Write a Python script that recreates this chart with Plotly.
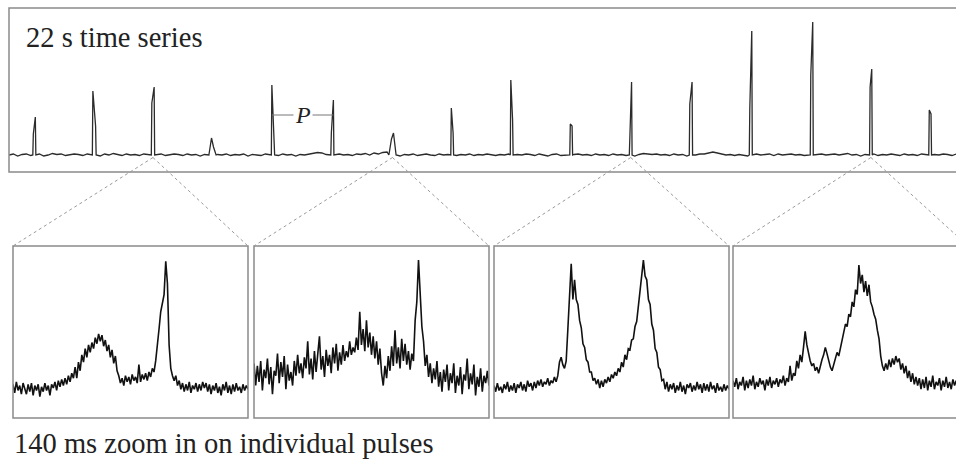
import plotly.graph_objects as go

# ---------------- data ----------------
# top panel: 22 s time series (amplitude in arbitrary units, baseline 0)
baseline_step_s = 0.1
baseline = [
    0.0, 0.1, -0.1, 0.05, 0.1, -0.05, 0.0, 0.1, -0.1, 0.0,
    0.15, 0.05, 0.1, -0.05, 0.0, 0.1, 0.05, -0.05, 0.1, 0.0,
    0.05, -0.1, 0.1, 0.0, 0.15, 0.05, -0.05, 0.1, 0.0, 0.05,
    -0.05, 0.1, 0.0, -0.15, 0.05, 0.1, -0.05, 0.0, 0.1, 0.05,
    -0.05, 0.1, 0.0, 0.05, -0.1, 0.05, 0.0, -0.1, 0.05, 0.0,
    0.1, -0.05, 0.05, 0.0, 0.1, -0.1, 0.05, 0.0, -0.05, 0.1,
    0.0, 0.05, -0.05, 0.1, 0.0, 0.05, -0.1, 0.05, 0.0, 0.1,
    0.15, 0.25, 0.2, 0.05, 0.0, -0.05, 0.1, 0.0, 0.05, -0.05,
    0.1, 0.05, 0.15, 0.0, 0.2, 0.1, 0.25, 0.3, 0.2, 0.1,
    -0.1, 0.05, 0.0, 0.1, -0.05, 0.05, 0.1, 0.0, -0.05, 0.1,
    0.0, 0.05, 0.1, -0.05, 0.05, 0.0, 0.1, -0.05, 0.05, 0.0,
    0.1, 0.0, -0.05, 0.05, 0.0, 0.1, -0.05, 0.05, 0.0, 0.1,
    0.05, -0.05, 0.1, 0.0, -0.1, 0.05, 0.1, -0.05, 0.0, -0.1,
    0.05, 0.1, 0.0, 0.05, -0.05, 0.1, 0.0, 0.05, -0.05, 0.1,
    0.0, 0.05, -0.05, 0.1, -0.1, 0.05, 0.15, 0.1, 0.05, 0.1,
    0.0, 0.05, -0.05, 0.1, 0.0, 0.05, -0.1, 0.05, 0.0, 0.1,
    0.1, 0.2, 0.3, 0.2, 0.1, 0.0, 0.05, -0.05, 0.05, 0.0,
    -0.1, 0.05, 0.1, 0.0, 0.05, 0.1, -0.05, 0.1, 0.0, 0.05,
    0.1, 0.0, 0.05, -0.05, 0.0, -0.1, 0.05, 0.1, 0.0, 0.05,
    0.1, 0.0, 0.05, 0.15, 0.0, 0.05, -0.1, 0.05, 0.0, 0.1,
    -0.05, 0.05, 0.0, 0.1, 0.05, -0.05, 0.1, 0.0, 0.05, -0.05,
    0.1, 0.0, -0.1, 0.05, 0.0, 0.1, 0.05, -0.05, 0.1,
]
pulse_t1 = [0.560, 1.930, 3.287, 4.660, 6.049, 7.418, 8.802, 10.179,
            11.548, 12.917, 14.287, 15.667, 17.048, 18.451, 19.816, 21.178]
pulse_t2 = [0.606, 1.993, 3.340, 4.706, 6.101, 7.465, 8.848, 10.220,
            11.589, 12.958, 14.327, 15.719, 17.093, 18.496, 19.854, 21.218]
pulse_h1 = [2.1, 6.4, 5.2, 1.7, 7.0, 2.2, 1.6, 4.7,
            7.5, 3.1, 2.0, 5.1, 4.7, 8.0, 6.8, 4.5]
pulse_h2 = [3.8, 2.9, 6.8, 0.8, 1.8, 5.5, 2.2, 2.2,
            3.5, 2.9, 7.3, 7.3, 12.4, 13.3, 8.6, 4.1]
pulse_halfwidth = [0.012, 0.012, 0.012, 0.06, 0.012, 0.012, 0.06, 0.012,
                   0.012, 0.012, 0.012, 0.012, 0.012, 0.012, 0.012, 0.012]
zoomed_pulses = [2, 6, 10, 14]
p_label_pulses = (4, 5)
p_label_level = 4.0

# zoom panels: 140 ms each, 1 ms samples (normalized amplitude)
zoom_step_ms = 1.0
zoom1 = [
    0.03, -0.04, 0.05, -0.02, 0.02, -0.05, 0.04, -0.01, -0.05, 0.03,
    -0.03, 0.04, -0.06, 0.02, -0.02, 0.03, -0.07, 0.01, -0.03, 0.04,
    -0.02, 0.02, -0.06, 0.03, 0.00, 0.05, -0.02, 0.06, 0.01, 0.07,
    0.02, 0.08, 0.03, 0.10, 0.05, 0.12, 0.08, 0.17, 0.08, 0.21,
    0.14, 0.27, 0.21, 0.32, 0.25, 0.35, 0.29, 0.37, 0.32, 0.41,
    0.36, 0.44, 0.38, 0.43, 0.34, 0.39, 0.30, 0.35, 0.25, 0.31,
    0.20, 0.26, 0.14, 0.10, 0.04, 0.08, 0.02, 0.10, 0.05, 0.09,
    0.03, 0.11, 0.06, 0.09, 0.04, 0.19, 0.05, 0.11, 0.07, 0.12,
    0.06, 0.13, 0.09, 0.16, 0.13, 0.22, 0.33, 0.48, 0.62, 0.70,
    0.76, 1.03, 0.85, 0.35, 0.16, 0.10, 0.06, 0.10, 0.02, 0.06,
    -0.01, 0.04, -0.03, 0.03, -0.02, 0.05, -0.04, 0.02, -0.01, 0.04,
    -0.03, 0.03, -0.02, 0.05, 0.00, 0.04, -0.03, 0.03, -0.05, 0.02,
    -0.02, 0.04, -0.04, 0.01, -0.06, 0.03, -0.02, 0.05, -0.04, 0.02,
    -0.05, 0.03, -0.03, 0.04, -0.02, 0.01, -0.04, 0.03, -0.02, 0.02,
    -0.01,
]
zoom2 = [
    0.20, 0.02, 0.18, 0.05, 0.22, -0.02, 0.15, 0.08, 0.24, 0.03,
    0.17, -0.05, 0.14, 0.10, 0.28, 0.04, 0.21, 0.09, 0.26, -0.01,
    0.19, 0.06, 0.13, 0.02, 0.22, 0.10, 0.27, 0.12, 0.20, 0.08,
    0.25, 0.16, 0.38, 0.11, 0.24, 0.07, 0.30, 0.13, 0.28, 0.42,
    0.15, 0.26, 0.09, 0.31, 0.18, 0.27, 0.12, 0.33, 0.20, 0.36,
    0.14, 0.29, 0.19, 0.35, 0.22, 0.30, 0.25, 0.38, 0.27, 0.33,
    0.29, 0.41, 0.31, 0.62, 0.35, 0.48, 0.30, 0.55, 0.33, 0.45,
    0.27, 0.42, 0.24, 0.38, 0.19, 0.32, 0.12, 0.02, 0.18, 0.08,
    0.26, 0.14, 0.34, 0.18, 0.47, 0.20, 0.33, 0.16, 0.40, 0.22,
    0.36, 0.19, 0.30, 0.15, 0.28, 0.22, 0.55, 0.70, 1.04, 0.72,
    0.50, 0.38, 0.18, 0.27, 0.09, 0.20, 0.04, 0.16, 0.07, 0.22,
    0.01, 0.13, -0.03, 0.15, 0.05, 0.19, -0.02, 0.12, 0.04, 0.20,
    -0.04, 0.10, 0.02, 0.17, -0.05, 0.11, 0.06, 0.24, -0.01, 0.12,
    0.03, 0.19, -0.06, 0.09, 0.01, 0.16, -0.03, 0.10, 0.04, 0.14,
    0.02,
]
zoom3 = [
    0.02, -0.03, 0.04, -0.02, 0.01, -0.04, 0.03, -0.01, 0.05, -0.03,
    0.02, -0.02, 0.04, -0.04, 0.03, 0.00, 0.05, -0.02, 0.03, -0.03,
    0.06, 0.01, 0.04, -0.02, 0.05, 0.00, 0.06, 0.02, 0.07, 0.01,
    0.05, 0.03, 0.08, 0.02, 0.06, 0.04, 0.09, 0.05, 0.10, 0.21,
    0.25, 0.19, 0.16, 0.22, 0.48, 0.82, 1.01, 0.72, 0.88, 0.72,
    0.68, 0.55, 0.49, 0.36, 0.33, 0.23, 0.21, 0.13, 0.13, 0.06,
    0.08, 0.03, 0.07, 0.00, 0.06, 0.01, 0.07, 0.04, 0.09, 0.05,
    0.11, 0.08, 0.13, 0.10, 0.16, 0.13, 0.21, 0.17, 0.27, 0.23,
    0.32, 0.31, 0.39, 0.40, 0.50, 0.54, 0.68, 0.76, 0.94, 1.04,
    0.91, 0.88, 0.72, 0.68, 0.52, 0.47, 0.32, 0.29, 0.17, 0.15,
    0.06, 0.07, -0.01, 0.05, -0.03, 0.03, -0.01, 0.04, -0.04, 0.02,
    -0.02, 0.05, -0.03, 0.02, -0.05, 0.03, 0.00, 0.04, -0.03, 0.02,
    -0.02, 0.05, -0.01, 0.03, -0.04, 0.04, -0.02, 0.03, -0.03, 0.05,
    -0.01, 0.02, -0.04, 0.04, -0.02, 0.01, -0.03, 0.03, -0.02, 0.02,
    -0.01,
]
zoom4 = [
    0.06, 0.01, 0.08, -0.01, 0.05, 0.02, 0.09, -0.02, 0.06, 0.00,
    0.07, 0.02, 0.10, -0.01, 0.05, 0.01, 0.08, 0.03, 0.06, -0.02,
    0.07, 0.02, 0.09, 0.00, 0.06, 0.03, 0.08, 0.01, 0.07, 0.04,
    0.10, 0.02, 0.08, 0.05, 0.18, 0.06, 0.12, 0.10, 0.22, 0.16,
    0.27, 0.21, 0.33, 0.46, 0.35, 0.27, 0.22, 0.18, 0.20, 0.14,
    0.17, 0.12, 0.18, 0.23, 0.27, 0.33, 0.28, 0.22, 0.17, 0.14,
    0.19, 0.24, 0.29, 0.26, 0.33, 0.37, 0.45, 0.52, 0.50, 0.60,
    0.58, 0.70, 0.66, 0.80, 0.76, 1.00, 0.85, 0.92, 0.78, 0.87,
    0.75, 0.84, 0.70, 0.66, 0.60, 0.56, 0.47, 0.40, 0.26, 0.18,
    0.14, 0.20, 0.15, 0.23, 0.17, 0.24, 0.19, 0.26, 0.21, 0.24,
    0.15, 0.20, 0.12, 0.18, 0.08, 0.14, 0.05, 0.12, 0.03, 0.09,
    0.02, 0.08, -0.01, 0.07, 0.00, 0.09, -0.02, 0.06, 0.01, 0.10,
    -0.01, 0.05, 0.02, 0.08, -0.02, 0.06, 0.01, 0.09, 0.00, 0.05,
    -0.01, 0.07, 0.02, 0.06,
]
zoom_series = [zoom1, zoom2, zoom3, zoom4]
zoom_window_ms = 140.0
total_time_s = 22.0

title_top = "22 s time series"
title_bottom = "140 ms zoom in on individual pulses"

# ---------------- layout constants (pixels) ----------------
W, H = 956, 461
TOP_BOX = dict(left=9, right=965, top=8, bottom=172)
TOP_YRANGE = [-1.7, 14.7]
PANEL_LEFTS = [13, 254, 494, 733]
PANEL_W = 235
PANEL_TOP, PANEL_BOTTOM = 246, 418
PANEL_YRANGE = [-0.244, 1.155]
FONT = "Liberation Serif, Times New Roman, serif"


def fx(p):
    return p / W


def fy(p):
    return 1 - p / H


# ---------------- build top trace ----------------
pts = []
for i, v in enumerate(baseline):
    t = i * baseline_step_s
    inside = any(a - hw - 0.03 < t < b + hw + 0.03
                 for a, b, hw in zip(pulse_t1, pulse_t2, pulse_halfwidth))
    if not inside:
        pts.append((t, v))
for a, b, h1, h2, hw in zip(pulse_t1, pulse_t2, pulse_h1, pulse_h2, pulse_halfwidth):
    pts += [(a - hw, 0.0), (a, h1), (b, h2), (b + hw, 0.0)]
pts.sort()

fig = go.Figure()
fig.add_trace(go.Scatter(x=[p[0] for p in pts], y=[p[1] for p in pts],
                         mode="lines", line=dict(color="#2b2b2b", width=1.3),
                         xaxis="x", yaxis="y", hoverinfo="skip"))

top_dom_x = [fx(TOP_BOX["left"]), 1.0]
visible_px = W - TOP_BOX["left"]
full_px = TOP_BOX["right"] - TOP_BOX["left"]
top_xrange = [0, total_time_s * visible_px / full_px]
top_dom_y = [fy(TOP_BOX["bottom"]), fy(TOP_BOX["top"])]

axis_off = dict(showgrid=False, zeroline=False, showticklabels=False,
                showline=False, ticks="", fixedrange=True)

layout = dict(
    width=W, height=H, margin=dict(l=0, r=0, t=0, b=0),
    paper_bgcolor="white", plot_bgcolor="rgba(0,0,0,0)", showlegend=False,
    xaxis=dict(domain=top_dom_x, range=top_xrange, **axis_off),
    yaxis=dict(domain=top_dom_y, range=TOP_YRANGE, **axis_off),
)

shapes = []
annotations = []

# top box
shapes.append(dict(type="rect", xref="x domain", yref="y domain",
                   x0=0, x1=full_px / visible_px + 0.01, y0=0, y1=1,
                   line=dict(color="#8a8a8a", width=1.5)))


def top_to_paper(t, v):
    xp = top_dom_x[0] + (t - top_xrange[0]) / (top_xrange[1] - top_xrange[0]) * (top_dom_x[1] - top_dom_x[0])
    yp = top_dom_y[0] + (v - TOP_YRANGE[0]) / (TOP_YRANGE[1] - TOP_YRANGE[0]) * (top_dom_y[1] - top_dom_y[0])
    return xp, yp


# zoom panels
for j, series in enumerate(zoom_series):
    n = j + 2
    left = PANEL_LEFTS[j]
    right_vis = min(left + PANEL_W, W)
    xr = [0, zoom_window_ms * (right_vis - left) / PANEL_W]
    fig.add_trace(go.Scatter(x=[k * zoom_step_ms for k in range(len(series))], y=series,
                             mode="lines", line=dict(color="#111111", width=1.6),
                             xaxis=f"x{n}", yaxis=f"y{n}", hoverinfo="skip"))
    layout[f"xaxis{n}"] = dict(domain=[fx(left), fx(right_vis)], range=xr,
                               anchor=f"y{n}", **axis_off)
    layout[f"yaxis{n}"] = dict(domain=[fy(PANEL_BOTTOM), fy(PANEL_TOP)], range=PANEL_YRANGE,
                               anchor=f"x{n}", **axis_off)
    shapes.append(dict(type="rect", xref=f"x{n} domain", yref=f"y{n} domain",
                       x0=0, x1=PANEL_W / (right_vis - left), y0=0, y1=1,
                       line=dict(color="#8a8a8a", width=1.5)))
    # dotted connectors from the pulse to the panel corners
    k = zoomed_pulses[j]
    tmid = (pulse_t1[k] + pulse_t2[k]) / 2
    sx, sy = top_to_paper(tmid, -0.25)
    for cx in (left, left + PANEL_W):
        shapes.append(dict(type="line", xref="paper", yref="paper",
                           x0=sx, y0=sy, x1=fx(cx), y1=fy(PANEL_TOP),
                           line=dict(color="#9a9a9a", width=1, dash="dot")))

# P bracket
a, b = p_label_pulses
shapes.append(dict(type="line", xref="x", yref="y",
                   x0=pulse_t1[a], x1=pulse_t2[b], y0=p_label_level, y1=p_label_level,
                   line=dict(color="#777777", width=1)))
annotations.append(dict(x=(pulse_t1[a] + pulse_t2[b]) / 2, y=p_label_level, xref="x", yref="y",
                        text="<i>P</i>", showarrow=False, bgcolor="white", borderpad=1,
                        font=dict(family=FONT, size=24, color="#222222")))

annotations.append(dict(x=fx(24), y=fy(38), xref="paper", yref="paper", xanchor="left",
                        yanchor="middle", text=title_top, showarrow=False,
                        font=dict(family=FONT, size=28.5, color="#222222")))
annotations.append(dict(x=fx(12), y=fy(443), xref="paper", yref="paper", xanchor="left",
                        yanchor="middle", text=title_bottom, showarrow=False,
                        font=dict(family=FONT, size=28.5, color="#222222")))

layout["shapes"] = shapes
layout["annotations"] = annotations
fig.update_layout(**layout)
fig.write_html("out.html", config={"displayModeBar": False},
               post_script="document.body.style.margin='0px';document.body.style.overflow='hidden';")
